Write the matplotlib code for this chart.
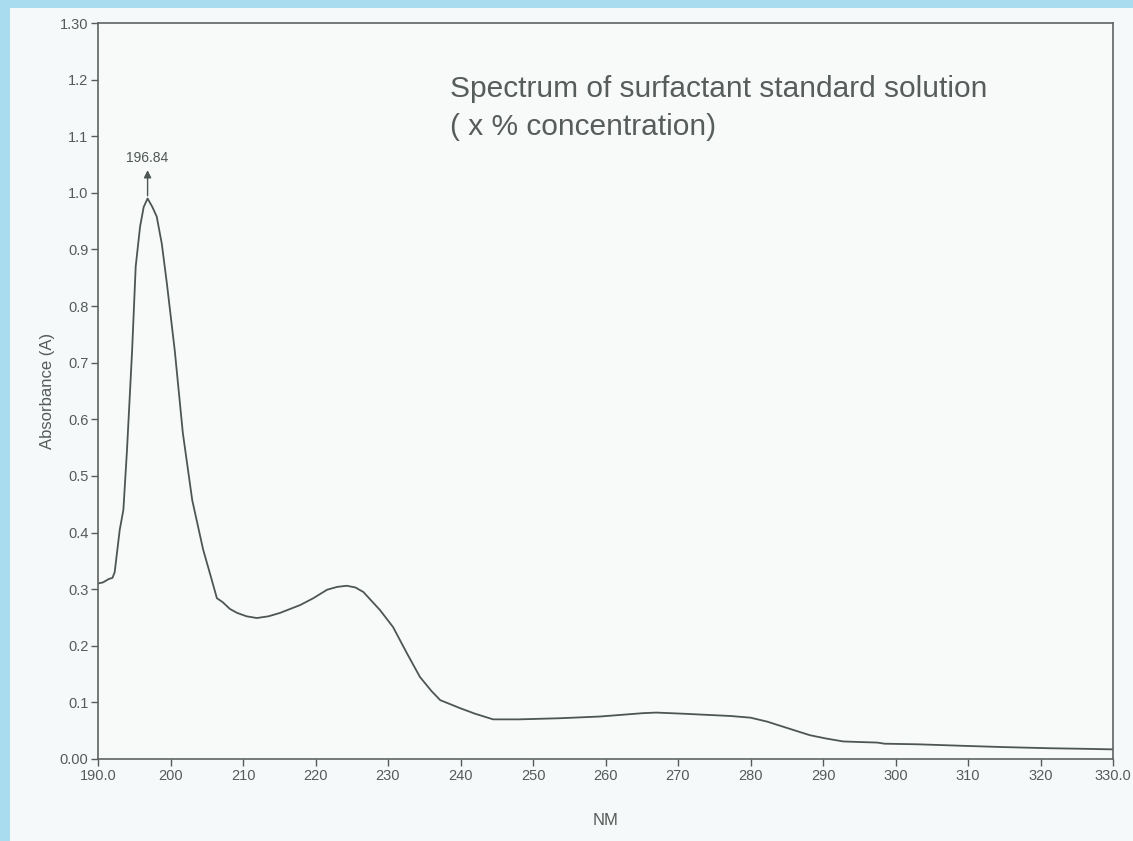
import matplotlib.pyplot as plt
from matplotlib.patches import Rectangle

# wavelength (nm) and absorbance
wavelength = [190.0, 190.7, 191.5, 192.0, 192.3, 193.0, 193.5, 194.0, 194.7, 195.2, 195.8,
              196.3, 196.84, 197.5, 198.1, 198.8, 199.5, 200.6, 201.7, 203.0, 204.5,
              205.5, 206.4, 207.2, 208.2, 209.2, 210.5, 211.9, 213.5, 215.1, 217.9,
              219.7, 221.6, 223.0, 224.3, 225.5, 226.6, 228.9, 230.7, 232.6, 234.4,
              236.0, 237.2, 239.9, 242.0, 244.5, 248.0, 253.7, 259.2, 265.2, 267.0,
              270.7, 277.2, 280.0, 282.3, 285.0, 288.2, 290.5, 292.8, 295.0, 297.5,
              298.5, 303.0, 310.0, 315.0, 321.3, 326.0, 330.0]
absorbance = [0.310, 0.312, 0.318, 0.320, 0.330, 0.405, 0.440, 0.546, 0.720, 0.870, 0.940,
              0.975, 0.990, 0.975, 0.958, 0.910, 0.840, 0.720, 0.576, 0.457, 0.370,
              0.325, 0.284, 0.277, 0.265, 0.258, 0.252, 0.249, 0.252, 0.258, 0.272,
              0.284, 0.299, 0.304, 0.306, 0.303, 0.295, 0.263, 0.233, 0.187, 0.145,
              0.120, 0.104, 0.090, 0.080, 0.070, 0.070, 0.072, 0.075, 0.081, 0.082,
              0.080, 0.076, 0.073, 0.066, 0.055, 0.042, 0.036, 0.031, 0.030, 0.029,
              0.027, 0.026, 0.023, 0.021, 0.019, 0.018, 0.017]

peak_nm = 196.84
peak_abs = 0.990

x_ticks = [190, 200, 210, 220, 230, 240, 250, 260, 270, 280, 290, 300, 310, 320, 330]
x_ticklabels = ['190.0', '200', '210', '220', '230', '240', '250', '260', '270', '280',
                '290', '300', '310', '320', '330.0']
y_ticks = [0.0, 0.1, 0.2, 0.3, 0.4, 0.5, 0.6, 0.7, 0.8, 0.9, 1.0, 1.1, 1.2, 1.3]
y_ticklabels = ['0.00', '0.1', '0.2', '0.3', '0.4', '0.5', '0.6', '0.7', '0.8', '0.9',
                '1.0', '1.1', '1.2', '1.30']

plt.rcParams['font.family'] = ['Liberation Sans', 'DejaVu Sans']

grey = '#555b58'
fig = plt.figure(figsize=(11.33, 8.41), dpi=100, facecolor='#a9dcef')
# scanned page (white area inside the blue border)
fig.patches.append(Rectangle((10 / 1133, 0), 1, 1 - 8 / 841, transform=fig.transFigure,
                             facecolor='#f6f9f9', edgecolor='none', zorder=-5))

ax = fig.add_axes([98 / 1133, 82 / 841, 1015 / 1133, 736 / 841])
ax.set_facecolor('#f8fafa')
ax.plot(wavelength, absorbance, color='#4d5652', lw=1.3)

ax.set_xlim(190, 330)
ax.set_ylim(0, 1.3)
ax.set_xticks(x_ticks)
ax.set_xticklabels(x_ticklabels)
ax.set_yticks(y_ticks)
ax.set_yticklabels(y_ticklabels)
ax.tick_params(colors=grey, labelsize=10.5, length=5, width=1, pad=2)
for s in ax.spines.values():
    s.set_color('#5e6461')
    s.set_linewidth(1.2)

ax.set_xlabel('NM', color=grey, fontsize=12, labelpad=22)
ax.set_ylabel('Absorbance (A)', color=grey, fontsize=12, labelpad=3)

# peak marker
ax.annotate('', xy=(peak_nm, 1.045), xytext=(peak_nm, peak_abs),
            arrowprops=dict(arrowstyle='-|>', color='#4d5652', lw=1, mutation_scale=11))
ax.text(peak_nm, 1.05, '196.84', ha='center', va='bottom', fontsize=10, color='#4d5652')

fig.text(450 / 1133, 1 - 97 / 841, 'Spectrum of surfactant standard solution',
         ha='left', va='baseline', fontsize=21.5, color='#575d5a')
fig.text(450 / 1133, 1 - 135 / 841, '( x % concentration)',
         ha='left', va='baseline', fontsize=21.5, color='#575d5a')

fig.savefig('out.png', dpi=100, facecolor=fig.get_facecolor())
